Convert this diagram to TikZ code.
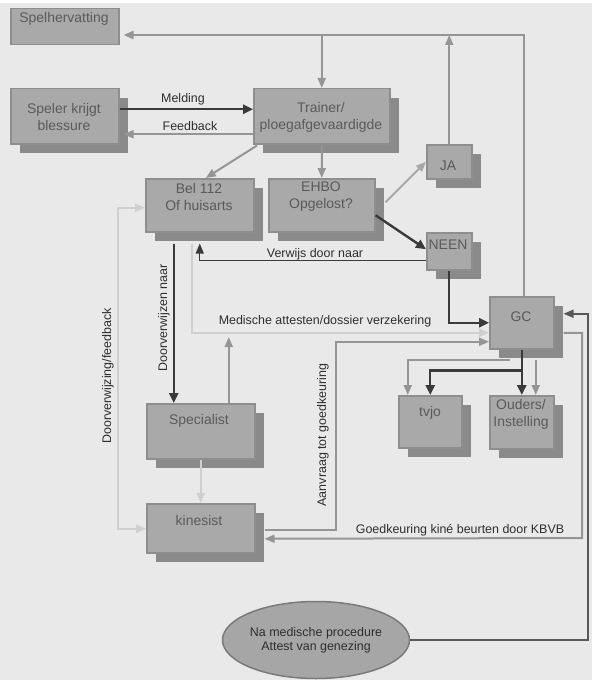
\documentclass[tikz,border=0pt]{standalone}
\usepackage{fontspec}
\setmainfont{Liberation Sans}
\usetikzlibrary{arrows.meta,calc,shadows,shapes.geometric}
\definecolor{bgc}{HTML}{E9E9E9}
\definecolor{boxfill}{HTML}{A9A9A9}
\definecolor{boxline}{HTML}{8E8E8E}
\definecolor{shadc}{HTML}{8A8A8A}
\definecolor{boxtext}{HTML}{5A5A5A}
\definecolor{darkc}{HTML}{3A3A3A}
\definecolor{midc}{HTML}{959595}
\definecolor{lightc}{HTML}{CFCFCF}
\definecolor{ehjac}{HTML}{A8A8A8}
\definecolor{labc}{HTML}{2E2E2E}
\definecolor{ellfill}{HTML}{A6A6A6}
\definecolor{elldraw}{HTML}{7A7A7A}
\begin{document}
\begin{tikzpicture}[x=1bp,y=-1bp,
  box/.style={draw=boxline, fill=boxfill, line width=1.5bp, anchor=north west, inner sep=0pt},
  sbox/.style={box, drop shadow={shadow xshift=9bp, shadow yshift=-9bp, fill=shadc, opacity=1}},
  btext/.style={font=\fontsize{14}{17}\selectfont, text=boxtext, align=center, inner sep=0pt},
  lab/.style={font=\fontsize{12.5}{15}\selectfont, text=labc, inner sep=0pt},
  darkarr/.style={draw=darkc, line width=2.4bp, -{Triangle[length=10bp,width=9bp]}},
  thinarr/.style={draw=darkc, line width=1.3bp, -{Triangle[length=10bp,width=8bp]}},
  midarr/.style={draw=midc, line width=2bp, -{Triangle[length=10bp,width=8bp]}},
  lightarr/.style={draw=lightc, line width=2bp, -{Triangle[length=10bp,width=8bp]}},
  ellarr/.style={draw=darkc!85, line width=1.6bp, -{Triangle[length=10bp,width=8bp]}}
]
\useasboundingbox (0,0) rectangle (597,686);
\fill[bgc] (0,3) rectangle (592,680);

% boxes
\node[box, minimum width=108bp, minimum height=36bp] (spel) at (10,8) {};
\node[sbox, minimum width=108bp, minimum height=55bp] (speler) at (10,88) {};
\node[sbox, minimum width=136bp, minimum height=55bp] (trainer) at (253,88) {};
\node[sbox, minimum width=45bp, minimum height=34bp] (ja) at (426,144) {};
\node[sbox, minimum width=108bp, minimum height=53bp] (bel) at (145,178) {};
\node[sbox, minimum width=106bp, minimum height=53bp] (ehbo) at (268,178) {};
\node[sbox, minimum width=45bp, minimum height=37bp] (neen) at (426,232) {};
\node[sbox, minimum width=64bp, minimum height=52bp] (gc) at (489,296) {};
\node[sbox, minimum width=63bp, minimum height=52bp] (tvjo) at (398,395) {};
\node[sbox, minimum width=64bp, minimum height=53bp] (ouders) at (489,395) {};
\node[sbox, minimum width=108bp, minimum height=55bp] (spec) at (146,403) {};
\node[sbox, minimum width=108bp, minimum height=49bp] (kine) at (146,503) {};
\node[ellipse, draw=elldraw, fill=ellfill, line width=1.5bp, minimum width=183bp, minimum height=77bp, inner sep=0pt, align=center, font=\fontsize{12.5}{14}\selectfont, text=labc] (ell) at (316,640) {Na medische procedure\\Attest van genezing};

% box texts
\node[btext] (tspel) at (64,19) {Spelhervatting};
\node[btext] (tspeler) at (64,117) {Speler krijgt\\blessure};
\node[btext] (ttrainer) at (321,117) {Trainer/\\ploegafgevaardigde};
\node[btext] (tja) at (448,166) {JA};
\node[btext] (tbel) at (199,197) {Bel 112\\Of huisarts};
\node[btext] (tehbo) at (321,197) {EHBO\\Opgelost?};
\node[btext] (tneen) at (448,245) {NEEN};
\node[btext] (tgc) at (521,317) {GC};
\node[btext] (ttvjo) at (430,413) {tvjo};
\node[btext] (touders) at (521,414) {Ouders/\\Instelling};
\node[btext] (tspec) at (199,421) {Specialist};
\node[btext] (tkine) at (199,521) {kinesist};

% top loop
\coordinate (tl) at (523,35);
\draw[midarr] ($(gc.north)+(2,0)$) |- ($(spel.east |- tl)+(4,0)$);
\draw[midarr] (trainer.north |- tl) -- (trainer.north);
\draw[midarr] (ja.north) -- (ja.north |- tl);

% Melding / Feedback
\draw[darkarr] ($(speler.east)+(0,-7)$) -- ($(trainer.west)+(0,-7)$);
\node[lab] (lmeld) at (183,99) {Melding};
\draw[midarr] ($(trainer.west)+(0,18)$) -- ($(speler.east)+(4,18)$);
\node[lab] (lfeed) at (190,126) {Feedback};

% Trainer -> Bel, EHBO
\draw[midarr] ($(trainer.south west)+(4,1)$) -- ($(bel.north)+(6,0)$);
\draw[midarr] (trainer.south) -- (ehbo.north);

% EHBO -> JA, NEEN
\draw[draw=ehjac, line width=2bp, -{Triangle[length=10bp,width=8bp]}] ($(ehbo.east)+(10,-3)$) -- (ja.west);
\draw[darkarr] ($(ehbo.east)+(0,10)$) -- ($(neen.west)+(0,-2)$);

% NEEN -> Bel (Verwijs door naar)
\draw[thinarr] ($(neen.west)+(0,9)$) -| ($(bel.south)+(0,11)$);
\node[lab] (lverw) at (315,254) {Verwijs door naar};

% NEEN -> GC
\draw[darkarr] (neen.south) |- (gc.west);

% Medische attesten
\draw[lightarr] ($(bel.south)+(-8,11)$) |- ($(gc.west)+(0,10)$);
\node[lab] (lmed) at (325,321) {Medische attesten/dossier verzekering};

% Bel -> Specialist
\draw[darkarr] ($(bel.south)+(-26,11)$) -- ($(spec.north)+(-27,0)$);
\node[lab, rotate=90] (ldoor) at (164,318) {Doorverwijzen naar};

% Specialist up
\draw[midarr] ($(spec.north)+(28,0)$) -- ($(spec.north)+(28,-66)$);

% Specialist -> kinesist
\draw[lightarr] (spec.south) -- (kine.north);

% Doorverwijzing/feedback
\coordinate (dfx) at (118,376);
\draw[draw=lightc, line width=2bp, {Triangle[length=10bp,width=8bp]}-{Triangle[length=10bp,width=8bp]}] ($(bel.west)+(0,2.5)$) -| (dfx) |- ($(kine.west)+(0,0.5)$);
\node[lab, rotate=90] (ldf) at (108,376) {Doorverwijzing/feedback};

% Aanvraag tot goedkeuring
\coordinate (aq) at (336,435);
\draw[midarr] ($(kine.east)+(9,1.5)$) -| (aq) |- ($(gc.west)+(0,19)$);
\node[lab, rotate=90] (laq) at (323,435) {Aanvraag tot goedkeuring};

% Goedkeuring kine
\coordinate (gkc) at (582,538);
\draw[midarr] ($(gc.east)+(9,10)$) -| (gkc) -- ($(kine.east)+(9,10.5)$);
\node[lab] (lgk) at (460,530) {Goedkeuring kiné beurten door KBVB};

% Ellipse -> GC
\coordinate (ecx) at (588,470);
\draw[ellarr] (ell.east) -| (ecx) |- ($(gc.east)+(9,-9)$);

% GC -> tvjo, Ouders
\draw[midarr] ($(gc.south)+(-12,10)$) -| ($(tvjo.north)+(-22.5,0)$);
\draw[darkarr] ($(gc.south)+(0,21)$) -| (tvjo.north);
\draw[darkarr] (gc.south) -- (ouders.north);
\draw[midarr] ($(gc.south)+(14,10)$) -- ($(ouders.north)+(14,0)$);
\end{tikzpicture}
\end{document}
